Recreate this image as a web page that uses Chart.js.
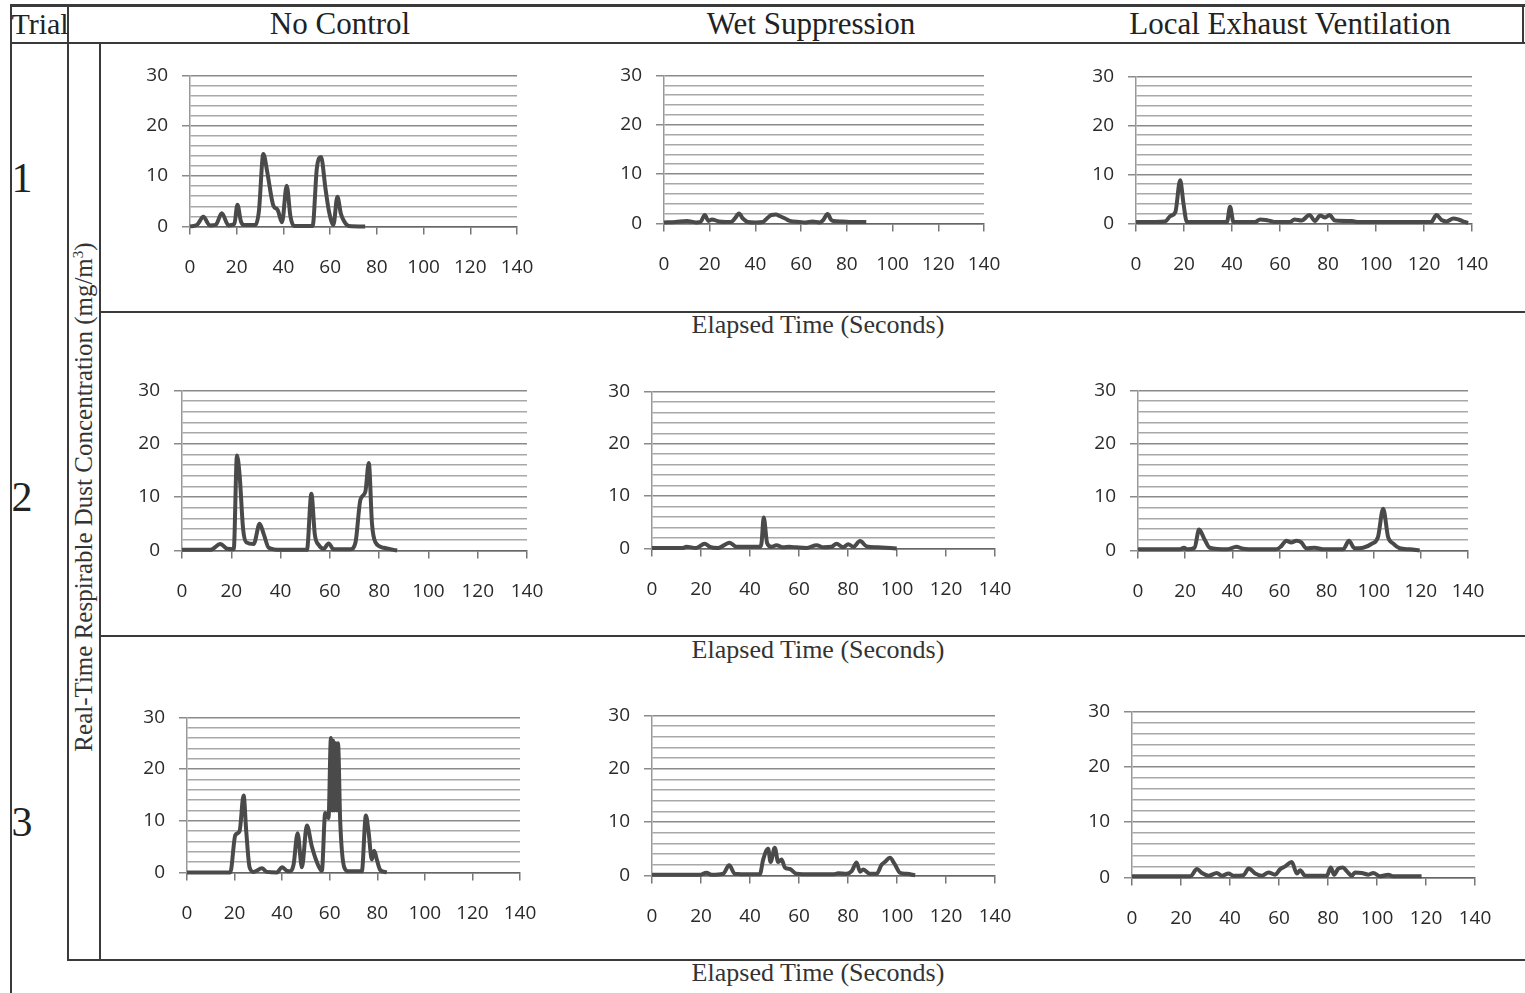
<!DOCTYPE html>
<html>
<head>
<meta charset="utf-8">
<script src="https://cdn.jsdelivr.net/npm/chart.js@4.4.0/dist/chart.umd.min.js"></script>
<style>
  body { margin: 0; background: #fff; width: 1525px; height: 993px; overflow: hidden; position: relative; }
  .ln { position: absolute; background: #3a3a3a; }
  .txt { position: absolute; font-family: "Liberation Serif", "DejaVu Serif", serif; color: #222; white-space: nowrap; transform: translate(-50%, -50%); }
  canvas { position: absolute; }
</style>
</head>
<body>

<!-- table lines -->
<div class="ln" style="left:10px;top:4px;width:1515px;height:3px;"></div>
<div class="ln" style="left:10px;top:42px;width:1515px;height:2px;"></div>
<div class="ln" style="left:10px;top:4px;width:2px;height:989px;"></div>
<div class="ln" style="left:67px;top:4px;width:2px;height:957px;"></div>
<div class="ln" style="left:99px;top:42px;width:2px;height:919px;"></div>
<div class="ln" style="left:1522px;top:4px;width:2px;height:40px;"></div>
<div class="ln" style="left:100px;top:311px;width:1425px;height:2px;"></div>
<div class="ln" style="left:100px;top:635px;width:1425px;height:2px;"></div>
<div class="ln" style="left:68px;top:959px;width:1457px;height:2px;"></div>

<!-- header text -->
<div class="txt" style="left:40px;top:24px;font-size:30px;">Trial</div>
<div class="txt" style="left:340px;top:24px;font-size:31px;">No Control</div>
<div class="txt" style="left:811px;top:24px;font-size:31px;">Wet Suppression</div>
<div class="txt" style="left:1290px;top:24px;font-size:31px;">Local Exhaust Ventilation</div>

<div class="txt" style="left:22px;top:178px;font-size:42px;">1</div>
<div class="txt" style="left:22px;top:497px;font-size:42px;">2</div>
<div class="txt" style="left:22px;top:822px;font-size:42px;">3</div>

<div class="txt" style="left:84px;top:497px;font-size:25px;color:#333;transform:translate(-50%,-50%) rotate(-90deg);">Real-Time Respirable Dust Concentration (mg/m<sup style="font-size:15px;">3</sup>)</div>

<div class="txt" style="left:818px;top:325px;font-size:26px;color:#333;">Elapsed Time (Seconds)</div>
<div class="txt" style="left:818px;top:650px;font-size:26px;color:#333;">Elapsed Time (Seconds)</div>
<div class="txt" style="left:818px;top:973px;font-size:26px;color:#333;">Elapsed Time (Seconds)</div>

<canvas id="nc1"></canvas>
<canvas id="ws1"></canvas>
<canvas id="lev1"></canvas>
<canvas id="nc2"></canvas>
<canvas id="ws2"></canvas>
<canvas id="lev2"></canvas>
<canvas id="nc3"></canvas>
<canvas id="ws3"></canvas>
<canvas id="lev3"></canvas>

<script>
// axis ticks (seconds / mg per m3)
const xTicks = [0, 20, 40, 60, 80, 100, 120, 140];
const yLabels = [0, 10, 20, 30];

// trial 1
const nc1Time = [0,3,5.7,8.5,11,13.6,16.5,19,20.3,21.8,23,28,29.5,31.4,33,35.7,37.5,39.4,41.4,43,44.5,52.5,54.3,56.1,58,59.5,61.4,63.1,64.6,66,68,75];
const nc1Conc = [0,0.3,1.9,0.2,0.3,2.6,0.2,0.5,4.3,1,0.3,0.3,3,14.4,11,4.1,3.3,0.8,8.1,2,0.1,0.1,11.5,13.8,7.5,3,0.3,5.9,2.5,1,0.1,0];
const ws1Time = [0,5,10,14,16,17.8,19.5,21,24,27,29.4,31,32.8,34.5,36.7,40,43.3,45,47,49,50.6,53,55,59.3,62,65,68,69.5,71.6,73,74,78,82,88.5];
const ws1Conc = [0.2,0.3,0.5,0.2,0.3,1.7,0.5,0.8,0.4,0.3,0.3,1,2.0,1,0.3,0.2,0.3,1,1.7,1.8,1.5,1,0.5,0.3,0.2,0.4,0.2,0.6,1.9,0.8,0.5,0.4,0.3,0.3];
const lev1Time = [0,8,12.2,14.3,16.4,18.4,19.8,21.2,25,30,37.9,39.2,40.6,45,49.7,51.7,54,56,58,64.2,66,69,72.3,74.6,76.7,78.8,80.6,82.9,90,92,100,110,123,125.2,127.3,129.4,132.2,134.3,137,138.4];
const lev1Conc = [0.3,0.3,0.4,1.5,2.3,8.8,4,0.3,0.3,0.3,0.3,3.4,0.3,0.3,0.3,0.8,0.7,0.5,0.3,0.3,0.8,0.6,1.7,0.5,1.6,1.2,1.7,0.6,0.5,0.3,0.3,0.3,0.3,1.7,0.7,0.4,1.0,0.8,0.3,0.1];

// trial 2
const nc2Time = [0,6,11.5,15.6,18.3,21,22.3,23.4,24.8,26.1,29.1,31.5,33.2,35.2,40,50.7,52.5,53.9,55.5,57.5,59.5,61.6,68.3,70.4,72.4,74.4,75.8,77.1,78.5,81.9,85.9,87.3];
const nc2Conc = [0.1,0.1,0.1,1.2,0.3,0.2,17.8,14,4,1.5,1.2,5,3,0.5,0.1,0.1,10.6,3,1,0.3,1.3,0.2,0.2,1.5,9.5,11,16.4,5,1.5,0.5,0.1,0];
const ws2Time = [0,6,12.7,14,18,21.5,23.6,27,31.7,34.5,40,44,44.7,45.6,47,48.8,50.8,53.5,56,59,63,67.2,69.9,73.3,75.3,78,80.1,82.2,84.9,87.6,92,99.9];
const ws2Conc = [0.1,0.1,0.1,0.3,0.1,0.9,0.3,0.1,1.1,0.3,0.3,0.3,1,5.9,1,0.3,0.6,0.2,0.3,0.2,0.1,0.6,0.2,0.3,0.9,0.2,0.8,0.3,1.4,0.4,0.2,0];
const lev2Time = [0,8,17.7,19.5,21,24,25.9,28.3,30.4,38,41.7,44.6,50,58.7,60.8,62.9,65,67.2,69.3,71.4,75,78.5,87,89.5,91.9,95.5,99,101.8,104,106.1,108.2,111,115.3,119.5];
const lev2Conc = [0.2,0.2,0.2,0.5,0.2,0.5,3.9,2,0.5,0.2,0.7,0.3,0.2,0.2,0.8,1.8,1.5,1.8,1.5,0.4,0.5,0.2,0.2,1.8,0.4,0.5,1.2,2.5,7.8,2.5,1.3,0.4,0.2,0];

// trial 3
const nc3Time = [0,10,18.2,20.3,22.1,23.8,24.9,26.3,28,31.5,33.6,37.8,39.9,42,43.4,44.8,46.5,48.3,50.4,52.5,54.6,56.7,58.1,59.5,60.5,61,61.5,62,62.5,63,63.5,64.4,66.1,67.9,73.5,75.2,76.3,77.7,78.7,79.8,81.2,84];
const nc3Conc = [0,0,0,7.2,8,14.9,8,1,0.1,0.8,0.1,0,1,0.3,0.2,1.5,7.6,1,9.1,5,2,0.3,11.5,10.5,26,12,25.5,12,25,12,25,10,1,0.2,0.2,11,8,2.5,4.2,2.5,0.5,0];
const ws3Time = [0,10,19.5,22.2,24.3,29,31.5,33.8,40,44,45.4,47.4,48.4,50.1,51.5,52.9,54.2,56.3,59,65,74,76,79.4,81.5,83.5,84.9,86.2,89,91.7,93.7,95,97.1,99.2,101.2,104,107.4];
const ws3Conc = [0.1,0.1,0.1,0.5,0.1,0.3,1.9,0.3,0.2,0.2,3,5,2.5,5.2,2.5,3,1.5,1.2,0.3,0.2,0.2,0.4,0.3,0.8,2.4,0.7,1.1,0.3,0.3,2,2.5,3.3,2,0.5,0.3,0];
const lev3Time = [0,12,23.8,26.5,28.5,31.3,34.6,36.7,39.4,41.4,45.5,47.6,50.3,53,55.7,58.4,60.5,62.5,65.2,67.3,68.6,70.7,79.5,81.1,82.5,84.2,86,87.9,89.7,91,93.8,96.5,98.5,101.2,104.6,106.7,112,118.2];
const lev3Conc = [0.2,0.2,0.2,1.5,0.8,0.3,0.8,0.3,0.7,0.3,0.4,1.6,0.7,0.3,0.9,0.5,1.5,2.0,2.8,0.7,1.3,0.3,0.3,1.8,0.5,1.6,1.8,1.0,0.3,0.9,0.8,0.5,0.8,0.2,0.5,0.2,0.2,0.2];

const tickFont = { family: '"Open Sans", "DejaVu Sans", sans-serif', size: 19 };
const AXIS_W = 70, AXIS_H = 60, PAD_TOP = 15, PAD_RIGHT = 30;

// plot area boxes [left, top, right, bottom]
function drawPanel(id, box, times, conc) {
    const [l, t, r, b] = box;
    const canvas = document.getElementById(id);
    canvas.width = (r - l) + AXIS_W + PAD_RIGHT;
    canvas.height = (b - t) + PAD_TOP + AXIS_H;

    const chart = new Chart(canvas.getContext('2d'), {
        type: 'line',
        data: {
            datasets: [{
                data: times.map((x, i) => ({ x: x, y: conc[i] })),
                borderColor: '#4a4a4a',
                borderWidth: 4,
                pointRadius: 0,
                cubicInterpolationMode: 'monotone',
                fill: false,
                clip: false
            }]
        },
        options: {
            responsive: false,
            maintainAspectRatio: false,
            animation: false,
            layout: { padding: { top: PAD_TOP, right: PAD_RIGHT, left: 0, bottom: 0 } },
            plugins: { legend: { display: false }, tooltip: { enabled: false } },
            scales: {
                x: {
                    type: 'linear',
                    min: 0,
                    max: 140,
                    afterBuildTicks: (s) => { s.ticks = xTicks.map(v => ({ value: v })); },
                    afterFit: (s) => { s.height = AXIS_H; },
                    grid: { drawOnChartArea: false, drawTicks: true, tickLength: 8, color: '#777', lineWidth: 1.5 },
                    border: { color: '#666', width: 1.5 },
                    ticks: { padding: 22, autoSkip: false, maxRotation: 0, color: '#2a2a2a', font: tickFont }
                },
                y: {
                    min: 0,
                    max: 30,
                    afterFit: (s) => { s.width = AXIS_W; },
                    grid: {
                        color: (ctx) => (ctx.tick && ctx.tick.value % 10 === 0) ? '#8a8a8a' : '#a8a8a8',
                        tickColor: (ctx) => (ctx.tick && ctx.tick.value % 10 === 0) ? '#8a8a8a' : 'rgba(0,0,0,0)',
                        lineWidth: 1.5,
                        tickLength: 8
                    },
                    border: { color: '#999', width: 1.5 },
                    ticks: {
                        stepSize: 2,
                        autoSkip: false,
                        padding: 14,
                        color: '#2a2a2a',
                        font: tickFont,
                        callback: (v) => yLabels.includes(v) ? v : ''
                    }
                }
            }
        }
    });

    // stretch the canvas so the plot area lands on the box
    let ca = chart.chartArea;
    const w = canvas.width + ((r - l) - (ca.right - ca.left));
    const h = canvas.height + ((b - t) - (ca.bottom - ca.top));
    chart.resize(w, h);
    ca = chart.chartArea;
    canvas.style.left = (l - ca.left) + 'px';
    canvas.style.top = (t - ca.top) + 'px';
    return chart;
}

drawPanel('nc1', [190, 75, 517, 226], nc1Time, nc1Conc);
drawPanel('ws1', [664, 75, 984, 223], ws1Time, ws1Conc);
drawPanel('lev1', [1136, 76, 1472, 223], lev1Time, lev1Conc);
drawPanel('nc2', [182, 390, 527, 550], nc2Time, nc2Conc);
drawPanel('ws2', [652, 391, 995, 548], ws2Time, ws2Conc);
drawPanel('lev2', [1138, 390, 1468, 550], lev2Time, lev2Conc);
drawPanel('nc3', [187, 717, 520, 872], nc3Time, nc3Conc);
drawPanel('ws3', [652, 715, 995, 875], ws3Time, ws3Conc);
drawPanel('lev3', [1132, 711, 1475, 877], lev3Time, lev3Conc);
</script>
</body>
</html>
